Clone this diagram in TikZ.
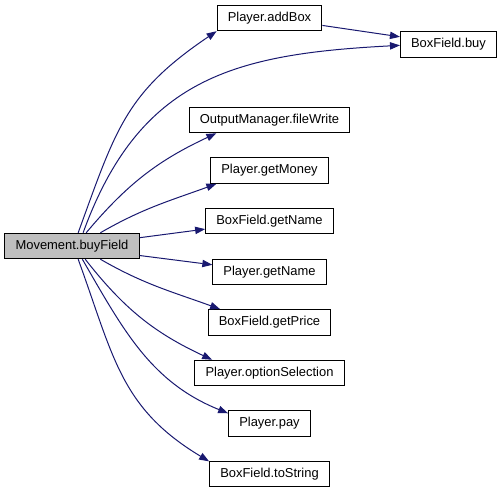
\documentclass[tikz,border=0pt]{standalone}
\usepackage{fontspec}
\setmainfont{Liberation Sans}
\usetikzlibrary{arrows.meta,positioning}
\definecolor{edgeblue}{RGB}{25,25,112}
\definecolor{rootgray}{RGB}{191,191,191}

\begin{document}
\begin{tikzpicture}[
  x=0.75pt, y=0.75pt,
  node distance=18.1pt,
  box/.style={draw, line width=0.75pt, fill=white, font=\fontsize{9.7}{11}\selectfont, inner xsep=8pt, minimum height=19.1pt},
  arr/.style={-{Triangle[length=7.5pt,width=5.5pt]}, draw=edgeblue, line width=0.75pt}
]
  \useasboundingbox (0,0) rectangle (503,-493);

  \node[box, fill=rootgray] (buyfield) at (72,-246) {Movement.buyField};
  \node[box] (addbox) at (269.5,-18) {Player.addBox};
  \node[box] (buy) at (448.5,-44.5) {BoxField.buy};
  \node[box] (filewrite) at (269.5,-120) {OutputManager.fileWrite};
  \node[box, below=of filewrite] (getmoney) {Player.getMoney};
  \node[box, below=of getmoney] (bgetname) {BoxField.getName};
  \node[box, below=of bgetname] (pgetname) {Player.getName};
  \node[box, below=of pgetname] (getprice) {BoxField.getPrice};
  \node[box, below=of getprice] (option) {Player.optionSelection};
  \node[box, below=of option] (pay) {Player.pay};
  \node[box, below=of pay] (tostring) {BoxField.toString};

  \draw[arr] (buyfield.65) to[out=70, in=214, looseness=1.15] (addbox.194);
  \draw[arr] (buyfield.50) to[out=70, in=183, looseness=1.15] (buy.181);
  \draw[arr] (addbox.-8) -- (buy.171);
  \draw[arr] (buyfield.43) to[out=50, in=205] (filewrite.194);
  \draw[arr] (buyfield.25) to[out=30, in=200] (getmoney.194);
  \draw[arr] (buyfield.7) -- (bgetname.187);
  \draw[arr] (buyfield.-8) -- (pgetname.173);
  \draw[arr] (buyfield.-25) to[out=-30, in=160] (getprice.165);
  \draw[arr] (buyfield.-45) to[out=-52, in=155] (option.167);
  \draw[arr] (buyfield.-52) to[out=-60, in=158] (pay.166);
  \draw[arr] (buyfield.-65) to[out=-70, in=149, looseness=1.1] (tostring.168);
\end{tikzpicture}
\end{document}
